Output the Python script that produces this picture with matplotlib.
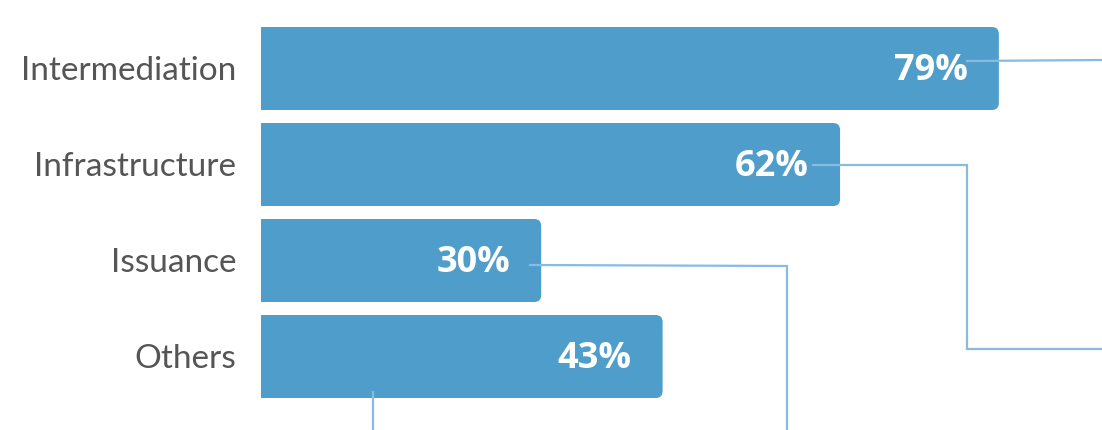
import matplotlib
matplotlib.use("Agg")
import matplotlib.pyplot as plt
from matplotlib.patches import FancyBboxPatch

categories = ["Intermediation", "Infrastructure", "Issuance", "Others"]
values = [79, 62, 30, 43]
labels = ["79%", "62%", "30%", "43%"]

W, H = 1102, 430
fig = plt.figure(figsize=(W / 100, H / 100), dpi=100)
x0 = 261
scale = 934 / 100.0  # px per percent
ax = fig.add_axes([x0 / W, 0, (W - x0) / W, 1])
ax.set_xlim(0, (W - x0) / scale)
y_top = -68.5 / 96.0
y_bot = 3 + (430 - 356.5) / 96.0
ax.set_ylim(y_bot, y_top)
ax.axis("off")

bar_color = "#4f9dca"
bars = ax.barh(range(len(values)), values, height=83 / 96.0, color=bar_color)

rx = 7 / scale
ry = 7 / 96.0
for r in bars:
    x, y = r.get_x(), r.get_y()
    w, h = r.get_width(), r.get_height()
    r.set_visible(False)
    p = FancyBboxPatch((x - 3, y), w + 3, h,
                       boxstyle=f"round,pad=0,rounding_size={rx}",
                       mutation_aspect=ry / rx,
                       fc=bar_color, ec="none", clip_on=True)
    ax.add_patch(p)

# value labels
for i, (v, lab) in enumerate(zip(values, labels)):
    ax.annotate(lab, (v, i), xytext=(-31, -12), textcoords="offset pixels",
                ha="right", va="baseline", color="white",
                fontsize=26, fontweight="bold", family="Open Sans")

# category labels
for i, c in enumerate(categories):
    ax.annotate(c, (0, i), xytext=(-25, -12), textcoords="offset pixels",
                ha="right", va="baseline", color="#555555",
                fontsize=24, fontweight="normal", family="Lato",
                annotation_clip=False)

def px(xp, yp):
    return (xp - x0) / scale, (yp - 68.5) / 96.0

line_color = "#88bbe4"
paths = [
    [(967, 61), (1102, 60)],
    [(813, 165), (967, 165), (967, 349), (1102, 349)],
    [(530, 265), (787, 266), (787, 430)],
    [(373, 392), (373, 430)],
]
for pts in paths:
    d = [px(a, b) for a, b in pts]
    ax.plot([p[0] for p in d], [p[1] for p in d], color=line_color, lw=1.6,
            solid_joinstyle="miter", clip_on=False)

fig.savefig("out.png", dpi=100)
